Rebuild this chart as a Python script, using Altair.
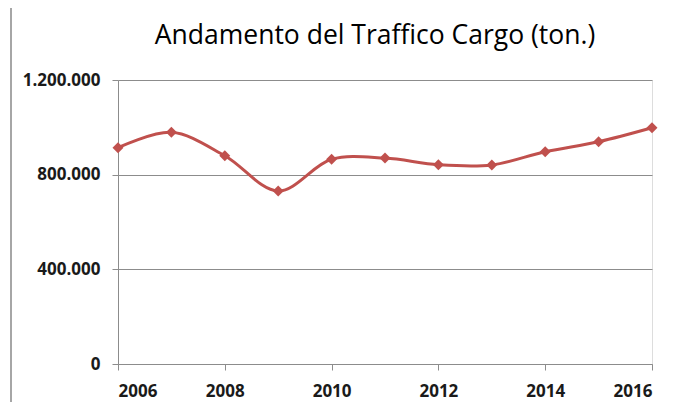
import altair as alt
import pandas as pd

years = [2006, 2007, 2008, 2009, 2010, 2011, 2012, 2013, 2014, 2015, 2016]
tons = [914000, 979000, 880000, 731000, 865000, 870000, 842000, 841000, 897000, 939000, 998000]

df = pd.DataFrame({"anno": years, "ton": tons})

color = "#C0504D"
grid = "#8C8C8C"

x = alt.X("anno:Q", scale=alt.Scale(domain=[2006, 2016], nice=False, zero=False),
          axis=alt.Axis(values=[2006, 2008, 2010, 2012, 2014, 2016], format="d", title=None,
                        grid=False, domainColor=grid, tickColor=grid, tickSize=6,
                        labelFont="Open Sans", labelFontSize=17, labelFontWeight="bold",
                        labelColor="#1a1a1a", labelPadding=13))
y = alt.Y("ton:Q", scale=alt.Scale(domain=[0, 1200000], nice=False),
          axis=alt.Axis(values=[0, 400000, 800000, 1200000], title=None,
                        labelExpr="replace(replace(format(datum.value, ','), ',', '.'), ',', '.')",
                        grid=True, gridColor=grid, gridWidth=1, domainColor=grid,
                        tickColor=grid, tickSize=6, labelFont="Open Sans", labelFontSize=17,
                        labelFontWeight="bold", labelColor="#1a1a1a", labelPadding=12))

line = alt.Chart(df).mark_line(color=color, strokeWidth=3, interpolate="catmull-rom").encode(x=x, y=y)
pts = alt.Chart(df).mark_point(shape="diamond", filled=True, color=color, size=120, opacity=1).encode(x=x, y=y)

frame = alt.Chart(df).mark_rule(color="#A6A6A6", strokeWidth=1.5).encode(
    x=alt.value(-107), y=alt.value(-72), y2=alt.value(330))

chart = alt.layer(frame, line, pts).properties(
    width=534, height=284,
    title=alt.TitleParams("Andamento del Traffico Cargo (ton.)", font="Open Sans", fontSize=26.5,
                          fontWeight="normal", color="#000000", anchor="middle", dx=-10,
                          offset=20, dy=62),
    autosize=alt.AutoSizeParams(type="none"),
    padding={"left": 110, "top": 72, "right": 10, "bottom": 38},
).configure_view(stroke=None).configure(background="white")

chart.save("out.html", embed_options={"renderer": "svg", "actions": False})
